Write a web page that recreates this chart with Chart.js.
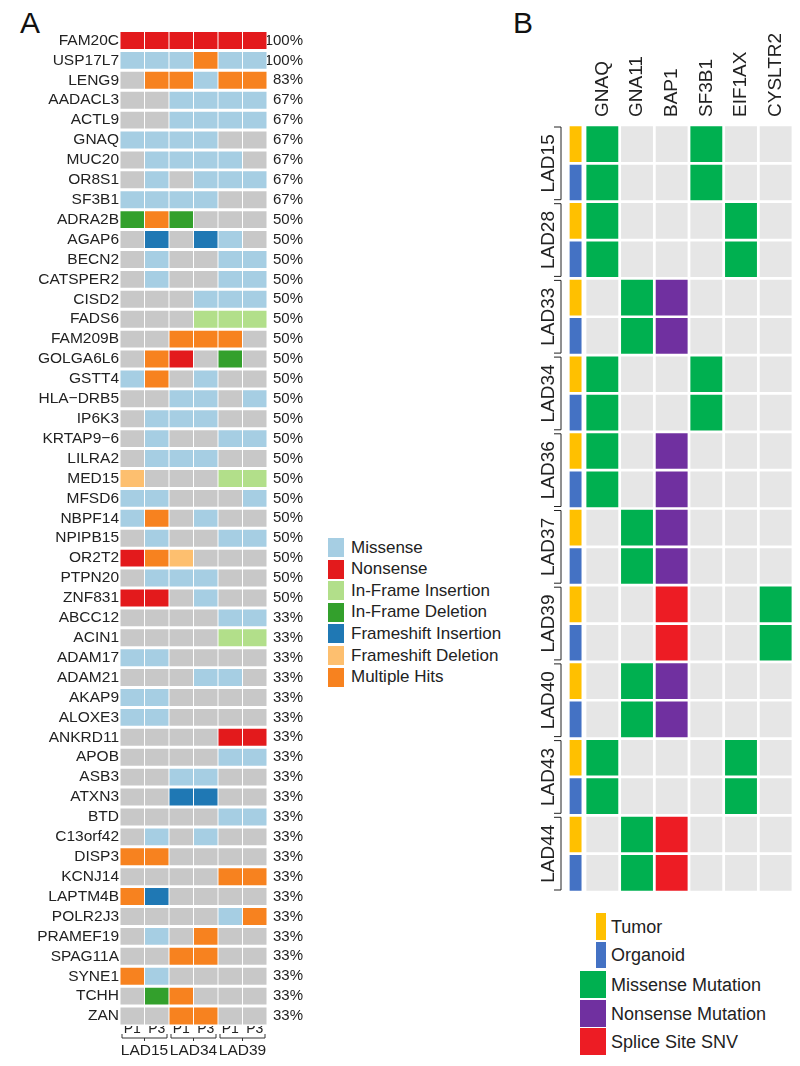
<!DOCTYPE html>
<html>
<head>
<title>Mutation landscape</title>
<style>
    body {
        margin: 0;
        background: #ffffff;
        font-family: Arial, 'Liberation Sans', sans-serif;
        color: #222;
    }
    #page { position: relative; width: 800px; height: 1066px; overflow: hidden; }
    .tag { position: absolute; font-size: 30px; line-height: 30px; color: #111; }
    #canvasA { position: absolute; left: 0; top: 0; }
    #canvasB { position: absolute; left: 520px; top: 0; }
    .key { position: absolute; font-size: 17px; line-height: 20px; white-space: nowrap; }
    .swatch { position: absolute; }
</style>
<script src="https://cdn.jsdelivr.net/npm/chart.js"></script>
</head>
<body>
<div id="page">
    <div class="tag" style="left:20px; top:8px;">A</div>
    <div class="tag" style="left:513px; top:8px;">B</div>
    <canvas id="canvasA" width="320" height="1066"></canvas>
    <canvas id="canvasB" width="280" height="900"></canvas>
    <div id="legendA"></div>
    <div id="legendB"></div>
</div>
<script>
// ---- panel A data ----
const genesA = ['FAM20C', 'USP17L7', 'LENG9', 'AADACL3', 'ACTL9', 'GNAQ', 'MUC20', 'OR8S1', 'SF3B1',
    'ADRA2B', 'AGAP6', 'BECN2', 'CATSPER2', 'CISD2', 'FADS6', 'FAM209B', 'GOLGA6L6', 'GSTT4',
    'HLA\u2212DRB5', 'IP6K3', 'KRTAP9\u22126', 'LILRA2', 'MED15', 'MFSD6', 'NBPF14', 'NPIPB15', 'OR2T2',
    'PTPN20', 'ZNF831', 'ABCC12', 'ACIN1', 'ADAM17', 'ADAM21', 'AKAP9', 'ALOXE3', 'ANKRD11', 'APOB',
    'ASB3', 'ATXN3', 'BTD', 'C13orf42', 'DISP3', 'KCNJ14', 'LAPTM4B', 'POLR2J3', 'PRAMEF19',
    'SPAG11A', 'SYNE1', 'TCHH', 'ZAN'];
const pctA = ['100%', '100%', '83%', '67%', '67%', '67%', '67%', '67%', '67%',
    '50%', '50%', '50%', '50%', '50%', '50%', '50%', '50%', '50%', '50%', '50%', '50%', '50%', '50%',
    '50%', '50%', '50%', '50%', '50%', '50%',
    '33%', '33%', '33%', '33%', '33%', '33%', '33%', '33%', '33%', '33%', '33%', '33%', '33%', '33%',
    '33%', '33%', '33%', '33%', '33%', '33%', '33%'];
const columnsA = ['P1', 'P3', 'P1', 'P3', 'P1', 'P3'];
const groupsA = ['LAD15', 'LAD34', 'LAD39'];
// one letter per column: M missense, N nonsense, I in-frame ins, D in-frame del,
// F frameshift ins, X frameshift del, H multiple hits, . none
const mutA = ['NNNNNN', 'MMMHMM', '.HHMHH', '..MMMM', '..MMMM', 'MMMM..', '.MMMM.', '.M.MMM', 'MMMM..',
    'DHD...', '.F.FM.', '.M..MM', '.M..MM', '...MMM', '...III', '..HHH.', '.HN.D.', 'MH.M..',
    '..MM.M', '.MMM..', '.M..MM', '.MMM..', 'X...II', 'MM...M', 'MH.M..', '.M..MM', 'NHX...',
    '.MMM..', 'NN.M..', '....MM', '....II', 'MM....', '...MM.', 'MM....', 'MM....', '....NN', '....MM',
    '..MM..', '..FF..', '....MM', '.M.M..', 'HH....', '....HH', 'HF....', '....MH', '.M.H..',
    '..HH..', 'HM....', '.DH...', '..HH..'];
const codesA = ['M', 'N', 'I', 'D', 'F', 'X', 'H'];
const typesA = ['Missense', 'Nonsense', 'In-Frame Insertion', 'In-Frame Deletion',
    'Frameshift Insertion', 'Frameshift Deletion', 'Multiple Hits'];

// ---- panel B data ----
const samplesB = ['LAD15', 'LAD28', 'LAD33', 'LAD34', 'LAD36', 'LAD37', 'LAD39', 'LAD40', 'LAD43', 'LAD44'];
const genesB = ['GNAQ', 'GNA11', 'BAP1', 'SF3B1', 'EIF1AX', 'CYSLTR2'];
// M missense, N nonsense, S splice site SNV
const tumorB = ['M..M..', 'M...M.', '.MN...', 'M..M..', 'M.N...', '.MN...', '..S..M', '.MN...', 'M...M.', '.MS...'];
const organoidB = ['M..M..', 'M...M.', '.MN...', 'M..M..', 'M.N...', '.MN...', '..S..M', '.MN...', 'M...M.', '.MS...'];
const codesB = ['M', 'N', 'S'];
const typesB = ['Missense Mutation', 'Nonsense Mutation', 'Splice Site SNV'];
const sourcesB = ['Tumor', 'Organoid'];

// ---- styles ----
const sans = "Arial, 'Liberation Sans', sans-serif";
const colorsA = { '.': '#c8c8c8', M: '#a6cee3', N: '#e31a1c', I: '#b2df8a', D: '#33a02c', F: '#1f78b4', X: '#fdbf6f', H: '#f7821f' };
const colorsB = { '.': '#e6e6e6', M: '#00b050', N: '#7030a0', S: '#ed1c24', Tumor: '#ffc000', Organoid: '#4472c4' };

function cellsA(code) {
    const out = [];
    genesA.forEach((g, r) => {
        for (let c = 0; c < columnsA.length; c++) {
            if (mutA[r][c] === code) out.push({ y: g, x: [c + 0.02, c + 0.98] });
        }
    });
    return out;
}

const rowsB = [];
const rowMutB = [];
samplesB.forEach((s, i) => {
    rowsB.push(s + ' Tumor'); rowMutB.push(tumorB[i]);
    rowsB.push(s + ' Organoid'); rowMutB.push(organoidB[i]);
});

function cellsB(code) {
    const out = [];
    rowsB.forEach((r, i) => {
        for (let c = 0; c < genesB.length; c++) {
            if (rowMutB[i][c] === code) out.push({ y: r, x: [c + 0.04, c + 0.96] });
        }
    });
    return out;
}

const bracketsA = {
    id: 'bracketsA',
    afterDraw(chart) {
        const ctx = chart.ctx;
        const xs = chart.scales.x;
        const y = xs.bottom - 2;
        ctx.save();
        ctx.strokeStyle = '#333';
        ctx.lineWidth = 1;
        groupsA.forEach((g, i) => {
            const x0 = xs.getPixelForValue(2 * i) + 2;
            const x1 = xs.getPixelForValue(2 * i + 2) - 2;
            const xm = (x0 + x1) / 2;
            ctx.beginPath();
            ctx.moveTo(x0, y - 4); ctx.lineTo(x0, y); ctx.lineTo(x1, y); ctx.lineTo(x1, y - 4);
            ctx.moveTo(xm, y); ctx.lineTo(xm, y + 3);
            ctx.stroke();
        });
        ctx.restore();
    }
};

const groupLabelsB = {
    id: 'groupLabelsB',
    afterDraw(chart) {
        const ctx = chart.ctx;
        const ys = chart.scales.y;
        const half = (ys.getPixelForValue(1) - ys.getPixelForValue(0)) / 2;
        ctx.save();
        ctx.fillStyle = '#222';
        ctx.strokeStyle = '#222';
        ctx.lineWidth = 1;
        ctx.font = '19px ' + sans;
        ctx.textAlign = 'center';
        ctx.textBaseline = 'middle';
        samplesB.forEach((s, i) => {
            const top = ys.getPixelForValue(2 * i) - half;
            const bottom = ys.getPixelForValue(2 * i + 1) + half;
            ctx.save();
            ctx.translate(29, (top + bottom) / 2);
            ctx.rotate(-Math.PI / 2);
            ctx.fillText(s, 0, 0);
            ctx.restore();
            ctx.beginPath();
            ctx.moveTo(34, top + 2); ctx.lineTo(41, top + 2); ctx.lineTo(41, bottom - 2); ctx.lineTo(34, bottom - 2);
            ctx.stroke();
        });
        ctx.restore();
    }
};

Chart.defaults.font.family = sans;
Chart.defaults.color = '#222';

new Chart(document.getElementById('canvasA'), {
    type: 'bar',
    data: {
        datasets: ['.'].concat(codesA).map(code => ({
            label: code,
            data: cellsA(code),
            backgroundColor: colorsA[code],
            borderWidth: 0,
            barPercentage: 0.85,
            categoryPercentage: 1,
            grouped: false
        }))
    },
    options: {
        indexAxis: 'y',
        responsive: false,
        animation: false,
        layout: { padding: { top: 30.5, bottom: 0, left: 0, right: 17 } },
        plugins: { legend: { display: false }, tooltip: { enabled: false } },
        scales: {
            y: {
                type: 'category', labels: genesA, position: 'left', offset: true,
                grid: { display: false, drawTicks: false }, border: { display: false },
                ticks: { autoSkip: false, padding: 1, font: { size: 15.5 }, color: '#222' },
                afterFit: s => { s.width = 120; }
            },
            y2: {
                type: 'category', labels: pctA, position: 'right', offset: true,
                grid: { display: false, drawTicks: false }, border: { display: false },
                ticks: { autoSkip: false, padding: 0, crossAlign: 'far', font: { size: 15 }, color: '#222' },
                afterFit: s => { s.width = 36; }
            },
            x: {
                type: 'linear', min: 0, max: 6, position: 'bottom', weight: 0,
                grid: { display: false, drawTicks: false }, border: { display: false },
                afterBuildTicks: s => { s.ticks = columnsA.map((c, i) => ({ value: i + 0.5 })); },
                ticks: { autoSkip: false, maxRotation: 0, padding: -5, font: { size: 14 }, color: '#222',
                    callback: (v, i) => columnsA[i] },
                afterFit: s => { s.height = 14; }
            },
            x2: {
                type: 'linear', min: 0, max: 6, position: 'bottom', weight: 1,
                grid: { display: false, drawTicks: false }, border: { display: false },
                afterBuildTicks: s => { s.ticks = groupsA.map((g, i) => ({ value: 2 * i + 1 })); },
                ticks: { autoSkip: false, maxRotation: 0, padding: 1, font: { size: 15.5 }, color: '#222',
                    callback: (v, i) => groupsA[i] },
                afterFit: s => { s.height = 26; }
            }
        }
    },
    plugins: [bracketsA]
});

const datasetsB = ['.'].concat(codesB).map(code => ({
    label: code,
    data: cellsB(code),
    backgroundColor: colorsB[code],
    borderWidth: 0,
    barPercentage: 0.93,
    categoryPercentage: 1,
    grouped: false
}));
sourcesB.forEach((src, k) => {
    datasetsB.push({
        label: src,
        data: rowsB.filter((r, i) => i % 2 === k).map(r => ({ y: r, x: [-0.45, -0.1] })),
        backgroundColor: colorsB[src],
        borderWidth: 0,
        barPercentage: 0.93,
        categoryPercentage: 1,
        grouped: false
    });
});

new Chart(document.getElementById('canvasB'), {
    type: 'bar',
    data: { datasets: datasetsB },
    options: {
        indexAxis: 'y',
        responsive: false,
        animation: false,
        layout: { padding: { top: 0, bottom: 8, left: 0, right: 7 } },
        plugins: { legend: { display: false }, tooltip: { enabled: false } },
        scales: {
            y: {
                type: 'category', labels: rowsB, position: 'left', offset: true,
                grid: { display: false, drawTicks: false }, border: { display: false },
                ticks: { display: false },
                afterFit: s => { s.width = 49.4; }
            },
            x: {
                type: 'linear', min: -0.45, max: 6, position: 'top',
                grid: { display: false, drawTicks: false }, border: { display: false },
                afterBuildTicks: s => { s.ticks = genesB.map((g, i) => ({ value: i + 0.5 })); },
                ticks: { autoSkip: false, minRotation: 90, maxRotation: 90, padding: 8, labelOffset: 23,
                    font: { size: 19 }, color: '#222', callback: (v, i) => genesB[i] },
                afterFit: s => { s.height = 125; }
            }
        }
    },
    plugins: [groupLabelsB]
});

// ---- legends ----
const legendA = document.getElementById('legendA');
typesA.forEach((t, i) => {
    const top = 538 + i * 21.6;
    legendA.insertAdjacentHTML('beforeend',
        `<div class="swatch" style="left:328px; top:${top}px; width:16px; height:19px; background:${colorsA[codesA[i]]};"></div>` +
        `<div class="key" style="left:351px; top:${top - 0.5}px;">${t}</div>`);
});

const legendB = document.getElementById('legendB');
const keysB = [
    { text: sourcesB[0], color: colorsB.Tumor, left: 596, top: 913, w: 10, h: 27 },
    { text: sourcesB[1], color: colorsB.Organoid, left: 596, top: 942, w: 10, h: 26 },
    { text: typesB[0], color: colorsB.M, left: 580, top: 971, w: 26, h: 27 },
    { text: typesB[1], color: colorsB.N, left: 580, top: 1000, w: 26, h: 27 },
    { text: typesB[2], color: colorsB.S, left: 580, top: 1028, w: 26, h: 27 }
];
keysB.forEach(k => {
    legendB.insertAdjacentHTML('beforeend',
        `<div class="swatch" style="left:${k.left}px; top:${k.top}px; width:${k.w}px; height:${k.h}px; background:${k.color};"></div>` +
        `<div class="key" style="left:611px; top:${k.top + k.h / 2 - 11}px; font-size:18px; line-height:22px;">${k.text}</div>`);
});
</script>
</body>
</html>
